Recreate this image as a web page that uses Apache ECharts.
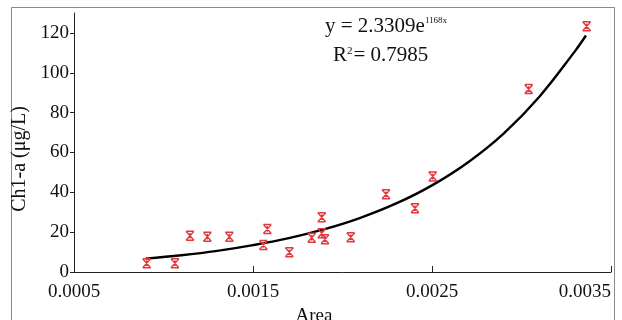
<!DOCTYPE html>
<html>
<head>
<meta charset="utf-8">
<script src="https://cdn.jsdelivr.net/npm/echarts@6/dist/echarts.min.js"></script>
<style>
html,body{margin:0;padding:0;background:#fff;}
#main{width:622px;height:320px;}
</style>
</head>
<body>
<div id="main"></div>
<script>
var areaValues = [0.000906, 0.001064, 0.001148, 0.001245, 0.001368, 0.001558, 0.00158, 0.001703, 0.001828, 0.001884, 0.001884, 0.001902, 0.002046, 0.002243, 0.002405, 0.002504, 0.003040, 0.003364];
var chlValues  = [4.4, 4.4, 18.2, 17.7, 17.7, 13.6, 21.6, 9.9, 17.2, 27.5, 19.4, 16.4, 17.4, 39.0, 32.0, 47.9, 91.8, 123.3];
// Trend curve
var curveX = [0.0009, 0.0011, 0.0013, 0.0015, 0.0017, 0.0019, 0.0021, 0.0023, 0.0025, 0.0027, 0.0029, 0.0031, 0.0033, 0.00336];
var curveY = [6.7, 8.4, 10.6, 13.5, 17.0, 21.5, 27.2, 34.4, 43.5, 55.0, 69.5, 88.0, 111.0, 118.7];
// Tick labels
var xTicks = [0.0005, 0.0015, 0.0025, 0.0035];
var yTicks = [0, 20, 40, 60, 80, 100, 120];

var FONT = '"Liberation Serif", "Times New Roman", serif';
var points = areaValues.map(function (x, i) { return [x, chlValues[i]]; });
var curve = curveX.map(function (x, i) { return [x, curveY[i]]; });

var chart = echarts.init(document.getElementById('main'), null, {renderer: 'canvas'});
chart.setOption({
  animation: false,
  backgroundColor: '#ffffff',
  grid: {left: 74, right: 11, top: 13, bottom: 48, containLabel: false, outerBoundsMode: 'none'},
  xAxis: {
    type: 'value', min: 0.0005, max: 0.0035, interval: 0.001,
    name: 'Area', nameLocation: 'middle', nameGap: 29,
    nameTextStyle: {fontFamily: FONT, fontSize: 19, color: '#111', padding: [0, 57, 0, 0]},
    axisLine: {show: true, lineStyle: {color: '#222', width: 1}},
    axisTick: {show: true, inside: true, length: 6, lineStyle: {color: '#222'}, customValues: xTicks},
    axisLabel: {fontFamily: FONT, fontSize: 19, color: '#111', margin: 11, alignMaxLabel: 'right',
      customValues: xTicks, formatter: function (v) { return v.toFixed(4); }},
    splitLine: {show: false}
  },
  yAxis: {
    type: 'value', min: 0, max: 130, interval: 20,
    name: 'Ch1-a (\u03bcg/L)', nameLocation: 'middle', nameGap: 38, nameRotate: 90,
    nameTextStyle: {fontFamily: FONT, fontSize: 20, color: '#111', padding: [0, 33, 0, 0]},
    axisLine: {show: true, lineStyle: {color: '#222', width: 1}},
    axisTick: {show: true, inside: false, length: 4, lineStyle: {color: '#222'}, customValues: yTicks},
    axisLabel: {fontFamily: FONT, fontSize: 19, color: '#111', margin: 5, customValues: yTicks},
    splitLine: {show: false}
  },
  graphic: [
    {type: 'rect', shape: {x: 11.5, y: 7.5, width: 603, height: 330}, silent: true,
      style: {fill: 'none', stroke: '#8a8a8a', lineWidth: 1}},
    {type: 'text', left: 325, top: 16, silent: true,
      style: {text: '{m|y = 2.3309e}{s|1168x}', rich: {
        m: {fontFamily: FONT, fontSize: 21, fill: '#111', verticalAlign: 'bottom'},
        s: {fontFamily: FONT, fontSize: 9, fill: '#111', verticalAlign: 'top', padding: [0, 0, 11, 0]}
      }}},
    {type: 'text', left: 333, top: 45, silent: true,
      style: {text: '{m|R}{s|2}{m|= 0.7985}', rich: {
        m: {fontFamily: FONT, fontSize: 21, fill: '#111'},
        s: {fontFamily: FONT, fontSize: 11, fill: '#111', padding: [0, 1, 8, 0]}
      }}}
  ],
  series: [
    {
      type: 'line', data: curve, smooth: 0.4, showSymbol: false, symbol: 'none',
      lineStyle: {color: '#000', width: 2.4}, z: 2
    },
    {
      type: 'scatter', data: points,
      symbol: 'path://M0,0 L10,0 M0,11 L10,11 M0,0 L10,11 M10,0 L0,11 M5,2 L5,9',
      symbolSize: [8, 9],
      itemStyle: {color: 'rgba(0,0,0,0)', borderColor: '#e03a40', borderWidth: 1.4, opacity: 1},
      z: 3
    }
  ]
});
</script>
</body>
</html>
